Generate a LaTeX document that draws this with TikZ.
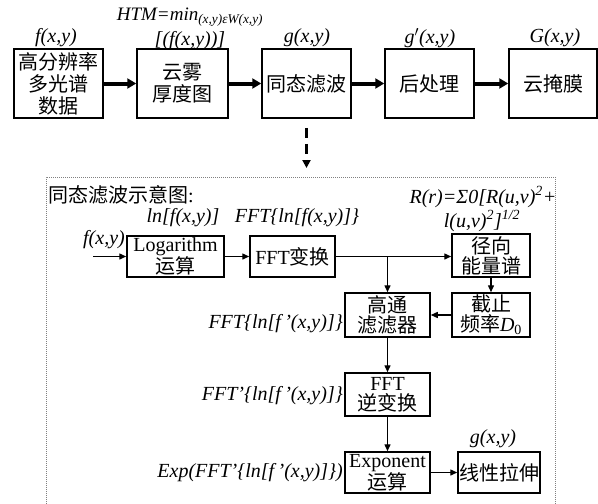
\documentclass[tikz,border=0pt]{standalone}
\usepackage{fontspec}
\setmainfont{Liberation Serif}
\newfontfamily\cjk{Noto Sans CJK SC}
\usetikzlibrary{positioning}
\usetikzlibrary{arrows.meta}
\newcommand\cn[1]{{\cjk #1}}
\tikzset{
    mybox/.style = {draw=black, line width=1.5pt, align=center, inner sep=0pt, fill=white,
                    font=\fontsize{20}{22}\selectfont, text=black},
    mylabel/.style = {inner sep=0pt, font=\fontsize{20}{22}\selectfont\itshape},
    edgek/.style = {-{Triangle[length=9pt,width=10pt]}, line width=4pt, black}, % main flow
    edgen/.style = {-{Triangle[length=7pt,width=6pt]}, line width=1.4pt, black}, % inner flow
    edged/.style = {-{Triangle[length=8pt,width=8pt]}, line width=2.2pt, black, dash pattern=on 10pt off 6pt},
    framed/.style = {gray, line width=1pt, densely dotted}
}
\begin{document}
\begin{tikzpicture}[x=1pt, y=-1pt]
  \useasboundingbox (0,0) rectangle (598,504);
  % top row
  \node[mybox, minimum width=89pt, minimum height=69pt] (data) at (58.5,83.5) {\cn{高分辨率}\\\cn{多光谱}\\\cn{数据}};
  \node[mybox, minimum width=91pt, minimum height=69pt] (htm) at (182.5,83.5) {\cn{云雾}\\\cn{厚度图}};
  \node[mybox, minimum width=89pt, minimum height=69pt] (homo) at (306.5,83.5) {\cn{同态滤波}};
  \node[mybox, minimum width=89pt, minimum height=69pt] (post) at (429.5,83.5) {\cn{后处理}};
  \node[mybox, minimum width=88pt, minimum height=69pt] (mask) at (553,83.5) {\cn{云掩膜}};
  \node[mylabel] (lf) at (56,38) {f(x,y)};
  \node[mylabel, font=\fontsize{19}{21}\selectfont\itshape] (lhtm) at (190,17) {HTM=min\textsubscript{(x,y)εW(x,y)}};
  \node[mylabel] (lhtm2) at (190,41) {[(f(x,y))]};
  \node[mylabel] (lg) at (307,38) {g(x,y)};
  \node[mylabel] (lgp) at (430,38) {g$'$(x,y)};
  \node[mylabel] (lG) at (555,38) {G(x,y)};
  \draw[edgek] (data) -- (htm);
  \draw[edgek] (htm) -- (homo);
  \draw[edgek] (homo) -- (post);
  \draw[edgek] (post) -- (mask);
  \coordinate (dtip) at (306.5,168);
  \draw[edged, shorten <=9pt] (homo.south) -- (dtip);
  % detail frame
  \draw[framed] (46,504) -- (46,177) -- (555,177) -- (555,504);
  \node[inner sep=0pt, anchor=west, font=\fontsize{20}{22}\selectfont] (title) at (48,195) {\cn{同态滤波示意图}:};
  \node[mybox, minimum width=97pt, minimum height=41pt, font=\fontsize{20}{18}\selectfont] (log) at (175.5,256.5) {Logarithm\\\cn{运算}};
  \node[mybox, minimum width=85pt, minimum height=41pt] (fft) at (292.5,256.5) {FFT\cn{变换}};
  \node[mybox, minimum width=78pt, minimum height=43pt, font=\fontsize{20}{20}\selectfont] (rad) at (491,255.5) {\cn{径向}\\\cn{能量谱}};
  \node[mybox, minimum width=85pt, minimum height=44pt, font=\fontsize{20}{20}\selectfont] (hp) at (387.5,315) {\cn{高通}\\\cn{滤滤器}};
  \node[mybox, minimum width=78pt, minimum height=44pt, font=\fontsize{20}{20}\selectfont] (cut) at (491,315) {\cn{截止}\\\cn{频率}\textit{D}\textsubscript{0}};
  \node[mybox, minimum width=85pt, minimum height=43pt, font=\fontsize{20}{20}\selectfont] (ifft) at (387.5,394.5) {FFT\\\cn{逆变换}};
  \node[mybox, minimum width=85pt, minimum height=41pt, font=\fontsize{20}{18}\selectfont] (expo) at (387.5,472.5) {Exponent\\\cn{运算}};
  \node[mybox, minimum width=82pt, minimum height=41pt] (lin) at (499,472.5) {\cn{线性拉伸}};
  \node[mylabel] (lln) at (183,218) {ln[f(x,y)]};
  \node[mylabel] (lfft) at (297,218) {FFT\{ln[f(x,y)]\}};
  \node[mylabel] (lR) at (483,197) {R(r)=Σ0[R(u,v)\textsuperscript{2}+};
  \node[mylabel] (lR2) at (482,221) {l(u,v)\textsuperscript{2}]\textsuperscript{1/2}};
  \node[mylabel, anchor=east] (lin1) at (125,240) {f(x,y)};
  \node[mylabel, anchor=east] (lhp) at (343,324) {FFT\{ln[f\,'(x,y)]\}};
  \node[mylabel, anchor=east] (lifft) at (343,396) {FFT'\{ln[f\,'(x,y)]\}};
  \node[mylabel, anchor=east] (lexp) at (343,473) {Exp(FFT'\{ln[f\,'(x,y)]\})};
  \node[mylabel] (lgo) at (493,439) {g(x,y)};
  \coordinate (in) at (93,256.5);
  \coordinate (br) at (387.5,256.5);
  \draw[edgen] (in) -- (log);
  \draw[edgen] (log) -- (fft);
  \draw[edgen] (fft.east) -- (rad.west |- fft.east);
  \draw[edgen] (br) -- (hp.north);
  \draw[edgen] (rad) -- (cut);
  \draw[edgen] (cut) -- (hp);
  \draw[edgen] (hp) -- (ifft);
  \draw[edgen] (ifft) -- (expo);
  \draw[edgen] (expo) -- (lin);
\end{tikzpicture}
\end{document}
